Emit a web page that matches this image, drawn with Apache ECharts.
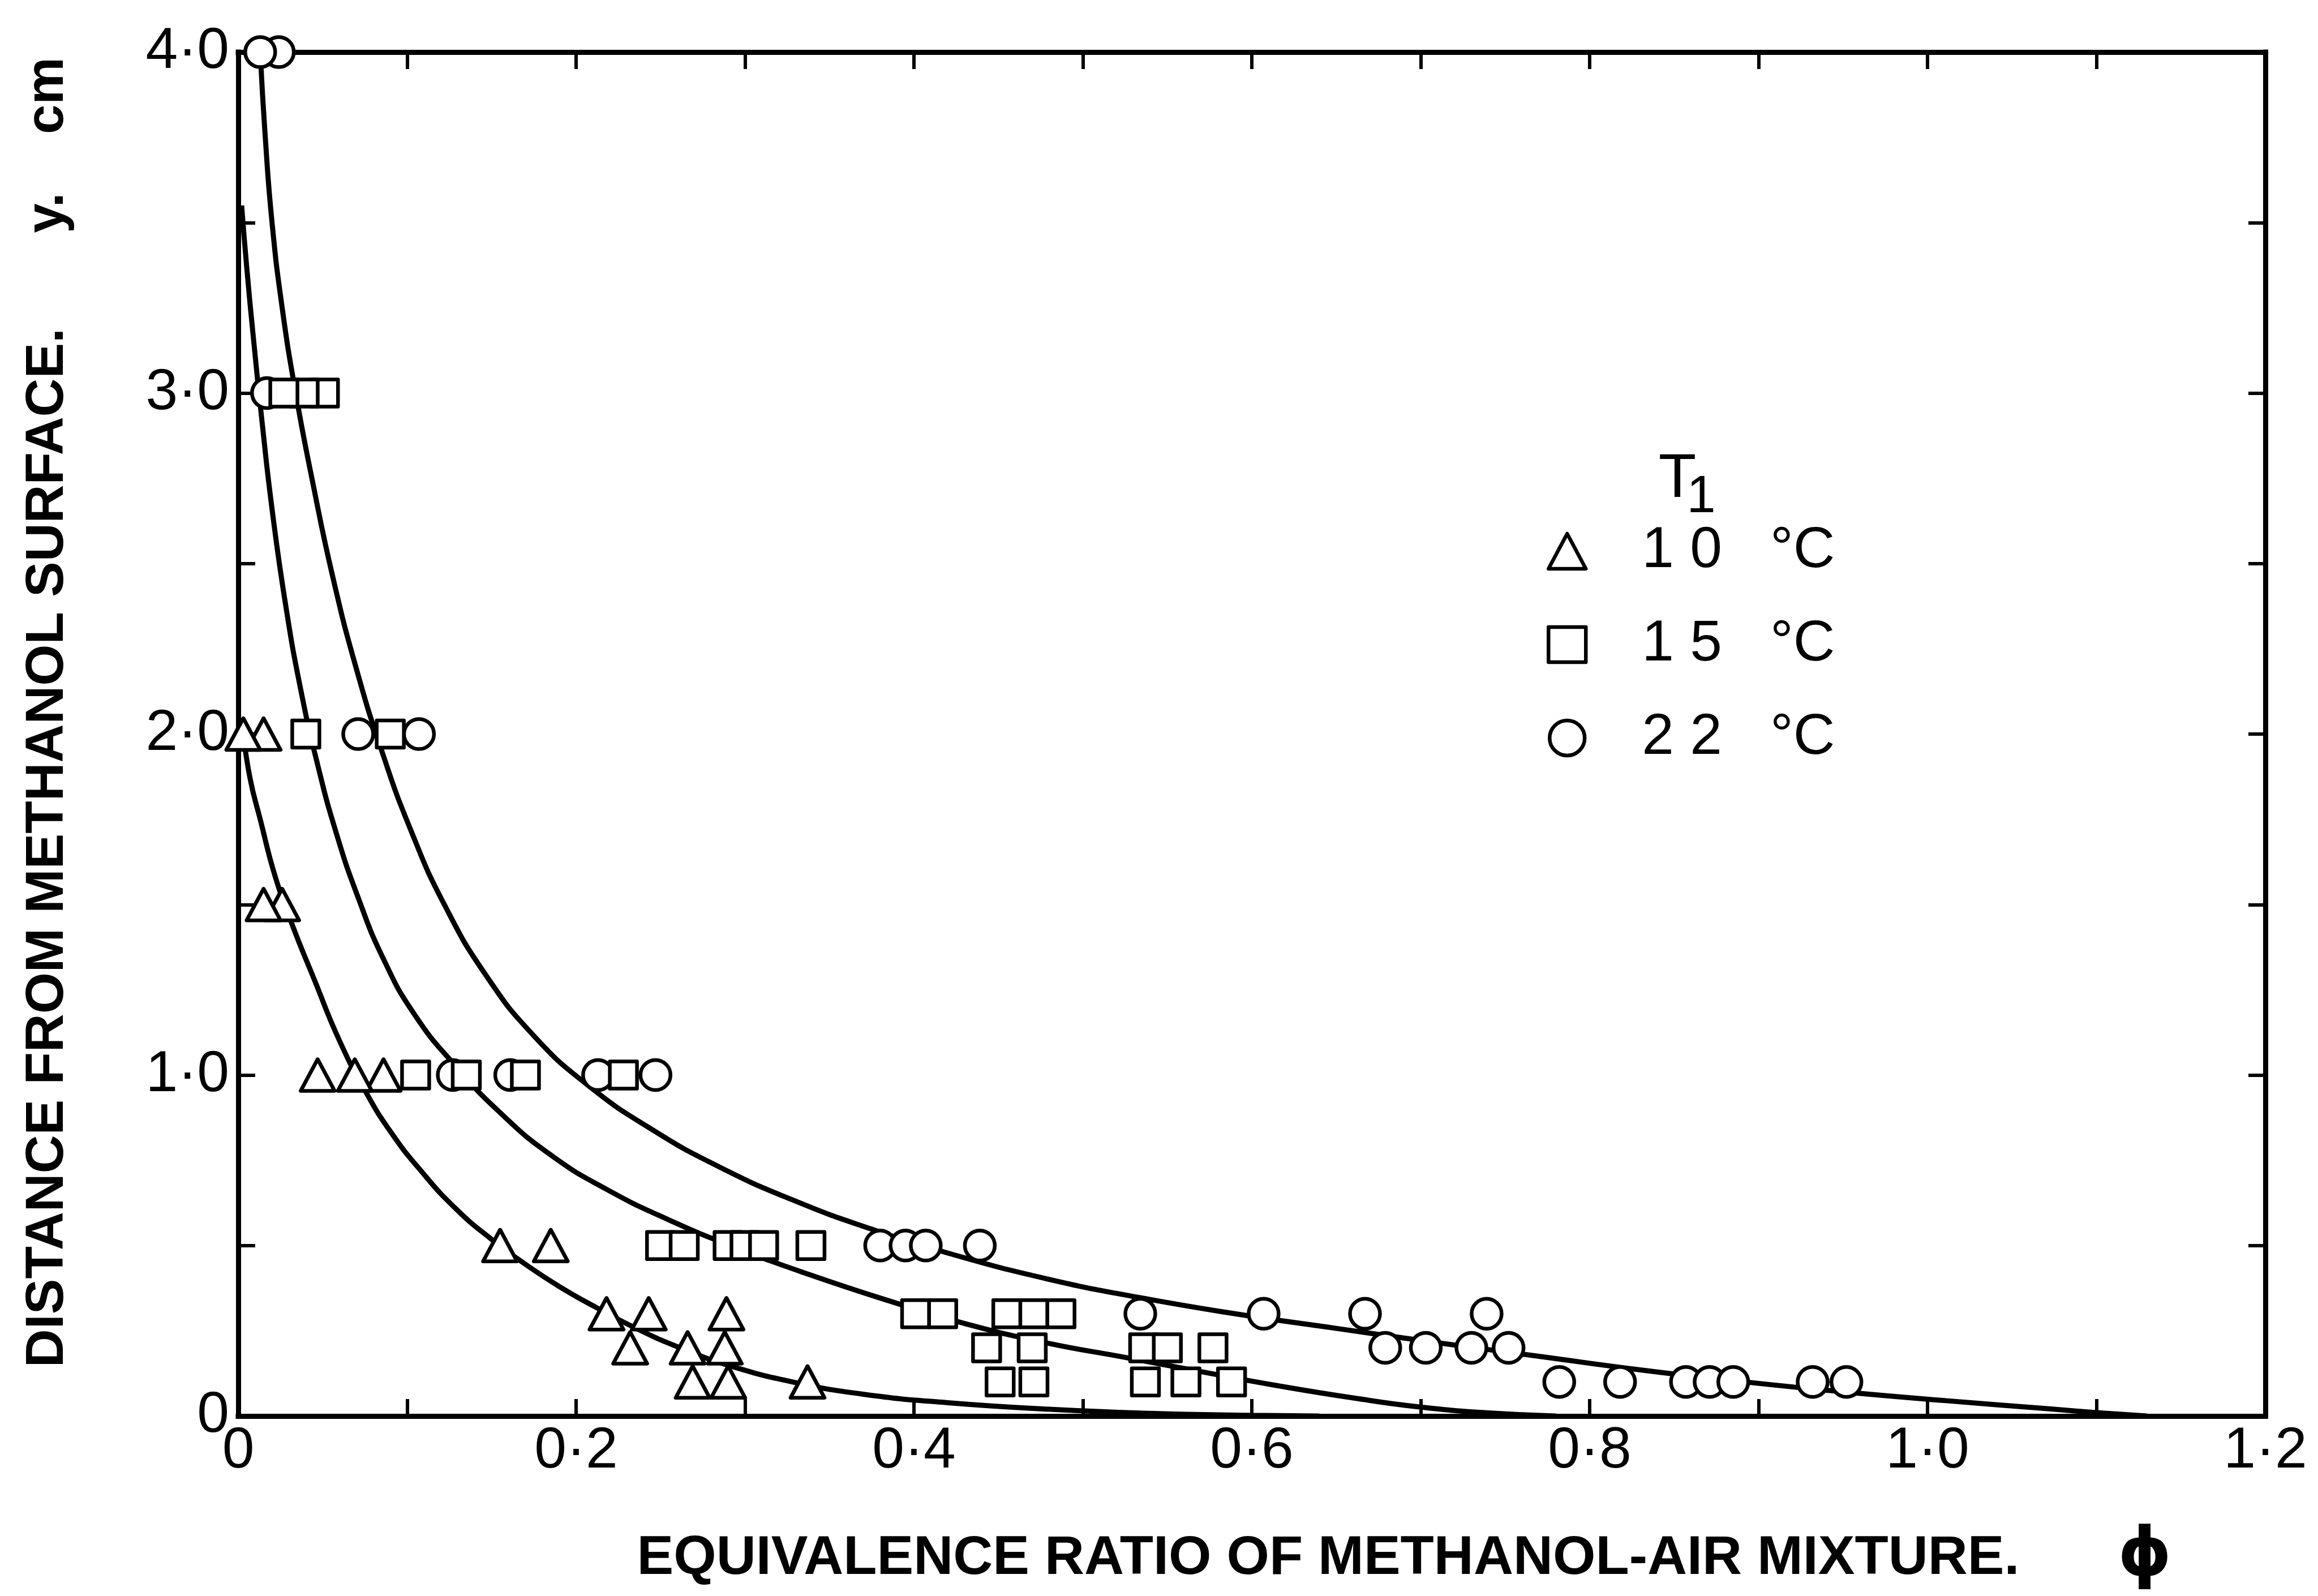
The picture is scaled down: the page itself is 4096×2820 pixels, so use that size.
<!DOCTYPE html>
<html>
<head>
<meta charset="utf-8">
<title>Distance from methanol surface vs equivalence ratio</title>
<script src="https://cdn.jsdelivr.net/npm/echarts@6/dist/echarts.min.js"></script>
<style>
  html, body { margin: 0; padding: 0; background: #fff; }
  #chart { width: 4096px; height: 2820px; }
</style>
</head>
<body>
<div id="chart"></div>
<script>
// Measured points: [equivalence ratio phi, distance y (cm)]
const tri10 = [
  [0.015, 2.0], [0.003, 2.0],
  [0.026, 1.5], [0.015, 1.5],
  [0.086, 1.0], [0.069, 1.0], [0.047, 1.0],
  [0.185, 0.5], [0.155, 0.5],
  [0.218, 0.3], [0.243, 0.3], [0.289, 0.3],
  [0.232, 0.2], [0.266, 0.2], [0.288, 0.2],
  [0.269, 0.1], [0.290, 0.1], [0.337, 0.1]
];
const sq15 = [
  [0.051, 3.0], [0.039, 3.0], [0.027, 3.0],
  [0.040, 2.0], [0.090, 2.0],
  [0.105, 1.0], [0.135, 1.0], [0.170, 1.0], [0.228, 1.0],
  [0.250, 0.5], [0.264, 0.5], [0.290, 0.5], [0.300, 0.5], [0.311, 0.5], [0.339, 0.5],
  [0.401, 0.3], [0.417, 0.3], [0.455, 0.3], [0.471, 0.3], [0.487, 0.3],
  [0.443, 0.2], [0.470, 0.2], [0.536, 0.2], [0.550, 0.2], [0.577, 0.2],
  [0.451, 0.1], [0.471, 0.1], [0.537, 0.1], [0.561, 0.1], [0.588, 0.1]
];
const circ22 = [
  [0.024, 4.0], [0.013, 4.0],
  [0.017, 3.0],
  [0.071, 2.0], [0.107, 2.0],
  [0.127, 1.0], [0.161, 1.0], [0.213, 1.0], [0.247, 1.0],
  [0.380, 0.5], [0.395, 0.5], [0.407, 0.5], [0.439, 0.5],
  [0.534, 0.3], [0.607, 0.3], [0.667, 0.3], [0.739, 0.3],
  [0.679, 0.2], [0.703, 0.2], [0.730, 0.2], [0.752, 0.2],
  [0.782, 0.1], [0.818, 0.1], [0.857, 0.1], [0.871, 0.1], [0.885, 0.1], [0.932, 0.1], [0.952, 0.1]
];

// Hand-drawn fitted curves for each initial temperature
const fit10 = [
  [0.003, 2.0], [0.007, 1.87], [0.013, 1.75], [0.022, 1.58], [0.032, 1.44],
  [0.045, 1.28], [0.060, 1.10], [0.075, 0.955], [0.090, 0.835], [0.108, 0.72],
  [0.129, 0.607], [0.150, 0.518], [0.170, 0.445], [0.190, 0.38], [0.212, 0.318],
  [0.236, 0.256], [0.262, 0.199], [0.292, 0.146], [0.329, 0.099], [0.37, 0.064],
  [0.42, 0.039], [0.48, 0.020], [0.54, 0.008], [0.60, 0.002], [0.64, 0]
];
const fit15 = [
  [0.002, 3.55], [0.005, 3.37], [0.009, 3.16], [0.014, 2.92], [0.020, 2.66], [0.028, 2.38],
  [0.037, 2.13], [0.047, 1.91], [0.058, 1.71], [0.071, 1.52], [0.086, 1.34], [0.104, 1.18],
  [0.128, 1.03], [0.156, 0.885], [0.186, 0.762], [0.218, 0.665], [0.255, 0.575],
  [0.295, 0.493], [0.338, 0.415], [0.387, 0.335], [0.431, 0.27], [0.479, 0.214],
  [0.525, 0.172], [0.570, 0.13], [0.614, 0.09], [0.66, 0.053], [0.70, 0.026], [0.74, 0.009], [0.78, 0]
];
const fit22 = [
  [0.013, 4.0], [0.016, 3.75], [0.020, 3.50], [0.026, 3.25], [0.034, 3.00], [0.044, 2.74],
  [0.056, 2.46], [0.070, 2.19], [0.085, 1.95], [0.102, 1.72], [0.122, 1.50], [0.147, 1.29],
  [0.175, 1.115], [0.207, 0.97], [0.245, 0.84], [0.285, 0.73], [0.330, 0.63], [0.375, 0.548],
  [0.420, 0.478], [0.479, 0.402], [0.534, 0.347], [0.590, 0.300], [0.650, 0.257], [0.710, 0.215],
  [0.770, 0.175], [0.832, 0.134], [0.890, 0.101], [0.950, 0.071], [1.011, 0.045], [1.072, 0.021],
  [1.10, 0.010], [1.13, 0]
];

// Tick labels
const xLabels = ['0', '0·2', '0·4', '0·6', '0·8', '1·0', '1·2'];
const yLabels = ['0', '1·0', '2·0', '3·0', '4·0'];

// Legend entries
const seriesNames = ['10 °C', '15 °C', '22 °C'];
const legendLabels = ['1 0   °C', '1 5   °C', '2 2   °C'];

const numFont = "'Liberation Sans', Arial, sans-serif";
const titleFont = "'Liberation Sans', Arial, sans-serif";
const AXIS_W = 9;
const TICK_LEN = 30;
const TICK_W = 6;
const MARK_W = 6.5;

function xFmt(v) {
  const k = Math.round(v * 10);
  if (k % 2 !== 0) return '';
  return xLabels[k / 2] || '';
}
function yFmt(v) {
  const k = Math.round(v * 2);
  if (k % 2 !== 0) return '';
  return yLabels[k / 2] || '';
}

function axisCommon(extra) {
  return Object.assign({
    type: 'value',
    axisLine: { show: true, onZero: false, lineStyle: { color: '#000', width: AXIS_W, cap: 'square' } },
    axisTick: { show: true, inside: true, length: TICK_LEN, lineStyle: { color: '#000', width: TICK_W } },
    splitLine: { show: false },
    minorTick: { show: false }
  }, extra);
}

function label(text, x, y, size, weight, opts) {
  return Object.assign({
    type: 'text', x: x, y: y, silent: true,
    style: {
      text: text, fontSize: size, fontFamily: titleFont, fontWeight: weight, fill: '#000',
      align: 'center', verticalAlign: 'middle'
    }
  }, opts || {});
}

const markStyle = { color: '#fff', borderColor: '#000', borderWidth: MARK_W, borderJoin: 'round', opacity: 1 };
const curveStyle = { color: '#000', width: 9 };

const chart = echarts.init(document.getElementById('chart'), null, { renderer: 'canvas' });

chart.setOption({
  backgroundColor: '#fff',
  animation: false,
  grid: { left: 421, right: 93, top: 92, bottom: 318, outerBoundsMode: 'none' },
  xAxis: [
    axisCommon({
      min: 0, max: 1.2, interval: 0.1, position: 'bottom',
      axisLabel: { show: true, margin: 12, formatter: xFmt, color: '#000', fontFamily: numFont, fontWeight: 500, fontSize: 102 }
    }),
    axisCommon({
      min: 0, max: 1.2, interval: 0.1, position: 'top',
      axisLabel: { show: false }
    })
  ],
  yAxis: [
    axisCommon({
      min: 0, max: 4, interval: 0.5, position: 'left',
      axisLabel: { show: true, margin: 16, formatter: yFmt, color: '#000', fontFamily: numFont, fontWeight: 500, fontSize: 102 }
    }),
    axisCommon({
      min: 0, max: 4, interval: 0.5, position: 'right',
      axisLabel: { show: false }
    })
  ],
  legend: {
    data: seriesNames,
    orient: 'vertical',
    left: 2733,
    top: 923,
    padding: 0,
    itemWidth: 66,
    itemHeight: 62,
    itemGap: 63,
    selectedMode: false,
    symbolKeepAspect: true,
    itemStyle: { color: '#fff', borderColor: '#000', borderWidth: MARK_W },
    textStyle: { color: '#000', fontFamily: numFont, fontSize: 102, lineHeight: 100, padding: [0, 0, 0, 94] },
    formatter: function (name) {
      const i = seriesNames.indexOf(name);
      return i >= 0 ? legendLabels[i] : name;
    }
  },
  graphic: [
    label('T', 2964, 848, 109, 'normal'),
    label('1', 3006, 880, 92, 'normal'),
    label('EQUIVALENCE RATIO OF METHANOL-AIR MIXTURE.', 2347, 2754, 97, 'bold'),
    label('ϕ', 3790, 2752, 120, 'bold', { style: { text: 'ϕ', fontSize: 120, fontFamily: "'DejaVu Sans', sans-serif", fontWeight: 'bold', fill: '#000', align: 'center', verticalAlign: 'middle' } }),
    label('DISTANCE FROM METHANOL SURFACE.', 85, 1498, 94, 'bold', { rotation: Math.PI / 2 }),
    label('y.', 85, 376, 94, 'bold', { rotation: Math.PI / 2 }),
    label('cm', 85, 169, 94, 'bold', { rotation: Math.PI / 2 })
  ],
  series: [
    { type: 'line', data: fit10, smooth: 0.5, showSymbol: false, symbol: 'none',
      lineStyle: curveStyle, z: 2, silent: true, clip: true },
    { type: 'line', data: fit15, smooth: 0.5, showSymbol: false, symbol: 'none',
      lineStyle: curveStyle, z: 2, silent: true, clip: true },
    { type: 'line', data: fit22, smooth: 0.5, showSymbol: false, symbol: 'none',
      lineStyle: curveStyle, z: 2, silent: true, clip: true },
    { type: 'scatter', name: seriesNames[2], data: circ22, symbol: 'circle', symbolSize: 53,
      itemStyle: markStyle, z: 3, clip: false, silent: true },
    { type: 'scatter', name: seriesNames[1], data: sq15, symbol: 'rect', symbolSize: 48,
      itemStyle: markStyle, z: 4, clip: false, silent: true },
    { type: 'scatter', name: seriesNames[0], data: tri10, symbol: 'triangle', symbolSize: [60, 56],
      itemStyle: markStyle, z: 5, clip: false, silent: true }
  ]
});
</script>
</body>
</html>
